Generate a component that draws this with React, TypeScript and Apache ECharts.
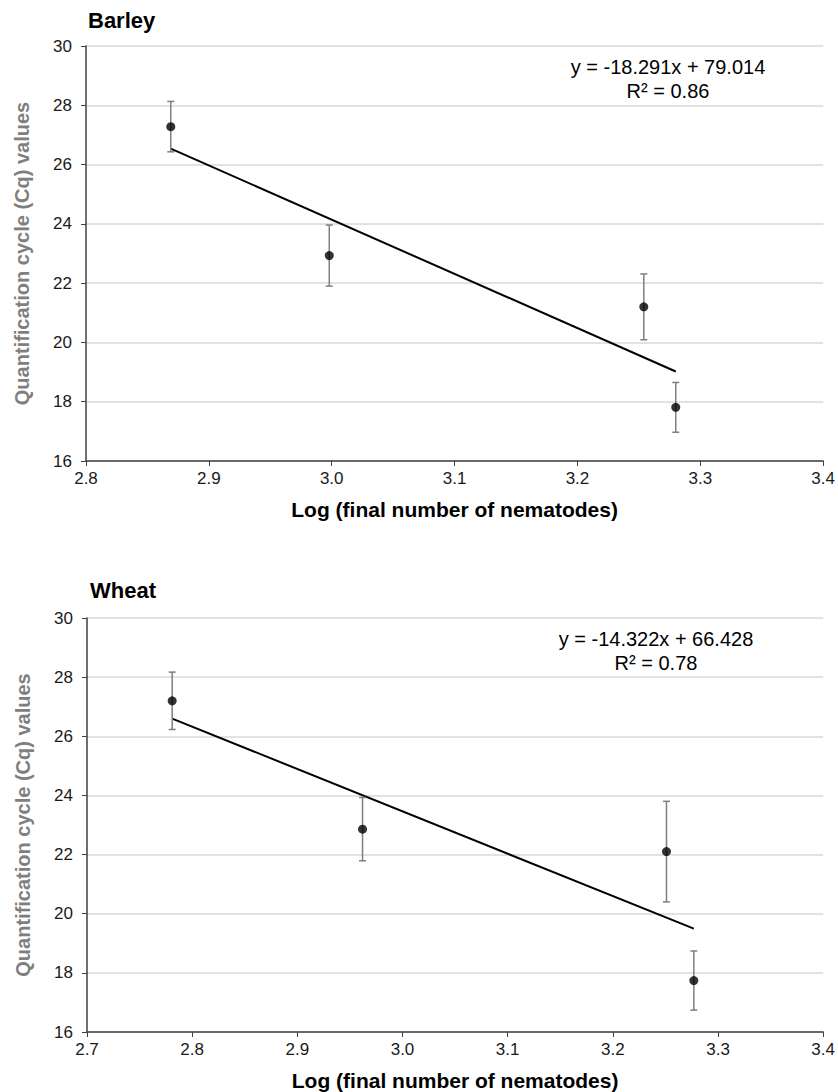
import React, { useEffect, useRef } from "react";
import * as echarts from "echarts";

// Barley
const barleyX = [2.869, 2.998, 3.254, 3.28];
const barleyY = [27.28, 22.93, 21.2, 17.81];
const barleyErr = [0.85, 1.03, 1.11, 0.84];
const barleySlope = -18.291;
const barleyIntercept = 79.014;
const barleyR2 = "0.86";
const barleyTicksX = [2.8, 3.4];

// Wheat
const wheatX = [2.781, 2.962, 3.251, 3.277];
const wheatY = [27.2, 22.86, 22.1, 17.74];
const wheatErr = [0.97, 1.07, 1.7, 1.0];
const wheatSlope = -14.322;
const wheatIntercept = 66.428;
const wheatR2 = "0.78";
const wheatTicksX = [2.7, 3.4];

const yRange = [16, 30];

const FONT = "'Liberation Sans', Arial, Helvetica, sans-serif";

function fmtEq(slope: number, intercept: number, r2: string) {
  return `y = ${slope.toFixed(3)}x + ${intercept.toFixed(3)}\nR² = ${r2}`;
}

export default function App() {
  const ref = useRef<HTMLDivElement>(null);

  useEffect(() => {
    if (!ref.current) return;
    const chart = echarts.init(ref.current, undefined, { renderer: "svg" });

    const panels = [
      { name: "Barley", x: barleyX, y: barleyY, err: barleyErr, slope: barleySlope, intercept: barleyIntercept, r2: barleyR2, range: barleyTicksX },
      { name: "Wheat", x: wheatX, y: wheatY, err: wheatErr, slope: wheatSlope, intercept: wheatIntercept, r2: wheatR2, range: wheatTicksX },
    ];

    const grids = [
      { left: 86, top: 46, width: 740, height: 415 },
      { left: 87, top: 618, width: 739, height: 414 },
    ];

    const xAxes = panels.map((p, i) => ({
      type: "value",
      gridIndex: i,
      min: p.range[0],
      max: p.range[1],
      interval: 0.1,
      name: "Log (final number of nematodes)",
      nameLocation: "middle",
      nameGap: 38,
      nameTextStyle: { fontFamily: FONT, fontSize: 21, fontWeight: "bold", color: "#000", verticalAlign: "top" },
      axisLine: { show: true, onZero: false, lineStyle: { color: "#404040", width: 1.5 } },
      axisTick: { show: true, inside: false, length: 5, lineStyle: { color: "#404040", width: 1 } },
      axisLabel: { fontFamily: FONT, fontSize: 17, color: "#1a1a1a", margin: 9, formatter: (v: number) => v.toFixed(1) },
      splitLine: { show: false },
    }));

    const yAxes = panels.map((p, i) => ({
      type: "value",
      gridIndex: i,
      min: yRange[0],
      max: yRange[1],
      interval: 2,
      name: "Quantification cycle (Cq) values",
      nameLocation: "middle",
      nameGap: 54,
      nameTextStyle: { fontFamily: FONT, fontSize: 20, fontWeight: "bold", color: "#7f7f7f" },
      axisLine: { show: true, lineStyle: { color: "#404040", width: 1.5 } },
      axisTick: { show: true, inside: false, length: 5, lineStyle: { color: "#404040", width: 1 } },
      axisLabel: { fontFamily: FONT, fontSize: 17, color: "#1a1a1a", margin: 14 },
      splitLine: { show: true, lineStyle: { color: "#d9d9d9", width: 1.5 } },
    }));

    const series: any[] = [];
    panels.forEach((p, i) => {
      const x0 = Math.min(...p.x);
      const x1 = Math.max(...p.x);
      series.push({
        type: "line",
        xAxisIndex: i,
        yAxisIndex: i,
        data: [
          [x0, p.slope * x0 + p.intercept],
          [x1, p.slope * x1 + p.intercept],
        ],
        symbol: "none",
        lineStyle: { color: "#000", width: 2 },
        z: 2,
      });
      series.push({
        type: "custom",
        xAxisIndex: i,
        yAxisIndex: i,
        data: p.x.map((xv, k) => [xv, p.y[k] - p.err[k], p.y[k] + p.err[k]]),
        encode: { x: 0, y: [1, 2] },
        renderItem: (params: any, api: any) => {
          const xv = api.value(0);
          const lo = api.coord([xv, api.value(1)]);
          const hi = api.coord([xv, api.value(2)]);
          const cap = 3.5;
          const style = { stroke: "#7f7f7f", lineWidth: 1.5 };
          return {
            type: "group",
            children: [
              { type: "line", shape: { x1: lo[0], y1: lo[1], x2: hi[0], y2: hi[1] }, style },
              { type: "line", shape: { x1: hi[0] - cap, y1: hi[1], x2: hi[0] + cap, y2: hi[1] }, style },
              { type: "line", shape: { x1: lo[0] - cap, y1: lo[1], x2: lo[0] + cap, y2: lo[1] }, style },
            ],
          };
        },
        z: 3,
      });
      series.push({
        type: "scatter",
        xAxisIndex: i,
        yAxisIndex: i,
        data: p.x.map((xv, k) => [xv, p.y[k]]),
        symbol: "circle",
        symbolSize: 9,
        itemStyle: { color: "#000" },
        z: 4,
      });
    });

    const option = {
      animation: false,
      backgroundColor: "#fff",
      grid: grids,
      xAxis: xAxes,
      yAxis: yAxes,
      series,
      graphic: [
        { type: "text", left: 88, top: 9, style: { text: "Barley", font: `bold 22px ${FONT}`, fill: "#000" } },
        { type: "text", left: 90, top: 579, style: { text: "Wheat", font: `bold 22px ${FONT}`, fill: "#000" } },
        {
          type: "text",
          x: 668,
          y: 55,
          style: { text: fmtEq(barleySlope, barleyIntercept, barleyR2), font: `20px ${FONT}`, fill: "#000", align: "center", verticalAlign: "top", lineHeight: 24 },
        },
        {
          type: "text",
          x: 656,
          y: 627,
          style: { text: fmtEq(wheatSlope, wheatIntercept, wheatR2), font: `20px ${FONT}`, fill: "#000", align: "center", verticalAlign: "top", lineHeight: 24 },
        },
      ],
    };

    chart.setOption(option as any);
    return () => chart.dispose();
  }, []);

  return <div ref={ref} style={{ position: "absolute", left: 0, top: 0, width: 838, height: 1092 }} />;
}
